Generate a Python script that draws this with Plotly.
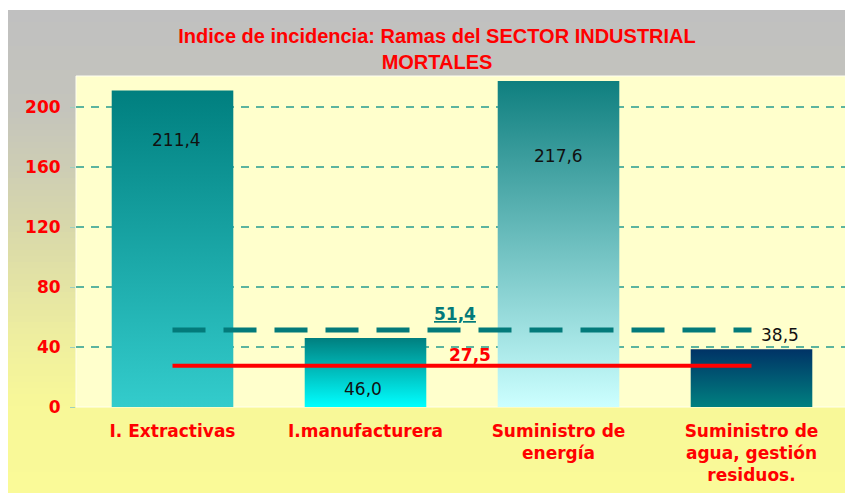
import plotly.graph_objects as go

# ---- data ----
categorias = ["I. Extractivas", "I.manufacturera", "Suministro de<br>energía",
              "Suministro de<br>agua, gestión<br>residuos."]
valores = [211.4, 46.0, 217.6, 38.5]
etiquetas = ["211,4", "46,0", "217,6", "38,5"]
media_sector = 51.4
media_sector_txt = "51,4"
media_total = 27.5
media_total_txt = "27,5"
y_ticks = [0, 40, 80, 120, 160, 200]

# ---- styles ----
bar_top = ["#007f7f", "#007f7f", "#0f7f7f", "#003366"]
bar_bottom = ["#33cccc", "#00ffff", "#ccffff", "#008080"]
label_shift = [(4, -50), (-3, -51), (0, -75), (28, 14)]
bar_w = 0.63

# page body has an 8px margin, so the figure is drawn at (8, 8)
W, H = 845, 485
ML, MR, MT, MB = 68, 5, 68, 86
pw, ph = W - ML - MR, H - MT - MB

fig = go.Figure()

for i, v in enumerate(valores):
    x0, x1 = i - bar_w / 2, i + bar_w / 2
    fig.add_trace(go.Scatter(
        x=[x0, x1, x1, x0, x0], y=[0, 0, v, v, 0],
        mode="lines", line=dict(width=0), fill="toself",
        fillgradient=dict(type="vertical",
                          colorscale=[[0, bar_bottom[i]], [1, bar_top[i]]]),
        hoverinfo="skip", showlegend=False))

n = len(valores)
fig.add_trace(go.Scatter(x=[0, n - 1], y=[media_sector, media_sector], mode="lines",
                         line=dict(color="#037a7a", width=5, dash="33px,18px"),
                         hoverinfo="skip", showlegend=False))
fig.add_trace(go.Scatter(x=[0, n - 1], y=[media_total, media_total], mode="lines",
                         line=dict(color="#ff0000", width=4),
                         hoverinfo="skip", showlegend=False))

annotations = []
for i, (v, t) in enumerate(zip(valores, etiquetas)):
    dx, dy = label_shift[i]
    annotations.append(dict(x=i, y=v, text=t, showarrow=False, xshift=dx, yshift=dy,
                            font=dict(family="DejaVu Sans", size=17, color="#111111")))
annotations.append(dict(x=(n - 1) / 2, y=media_sector, text="<u>" + media_sector_txt + "</u>",
                        showarrow=False, xshift=-7, yshift=16,
                        font=dict(family="DejaVu Sans", size=17, color="#037a7a", weight="bold")))
annotations.append(dict(x=(n - 1) / 2, y=media_total, text=media_total_txt,
                        showarrow=False, xshift=8, yshift=11,
                        font=dict(family="DejaVu Sans", size=17, color="#ff0000", weight="bold")))

# background gradient strips (gray top -> yellow bottom), figure pixel coords
stops = [(2, (192, 192, 192)), (99, (196, 196, 188)), (159, (205, 205, 180)),
         (219, (216, 216, 170)), (279, (228, 228, 164)), (339, (240, 240, 158)),
         (399, (248, 248, 152)), (485, (250, 250, 152))]


def col_at(py):
    for (a, ca), (b, cb) in zip(stops[:-1], stops[1:]):
        if a <= py <= b:
            t = (py - a) / (b - a)
            return "rgb(%d,%d,%d)" % tuple(round(ca[k] + (cb[k] - ca[k]) * t) for k in range(3))
    return "rgb(250,250,152)"


shapes = []
step = 6
py = 2
while py < H:
    p1 = min(py + step, H)
    shapes.append(dict(type="rect", xref="paper", yref="paper", layer="below",
                       x0=(0 - ML) / pw, x1=(W - ML) / pw + 0.01,
                       y0=(MT + ph - p1 - 0.5) / ph, y1=(MT + ph - py) / ph,
                       fillcolor=col_at((py + p1) / 2), line=dict(width=0)))
    py = p1
shapes.append(dict(type="rect", xref="paper", yref="paper", layer="below",
                   x0=0, x1=1, y0=0, y1=1, fillcolor="#ffffcc",
                   line=dict(width=1, color="#fffff0")))

fig.update_layout(
    width=W, height=H,
    margin=dict(l=ML, r=MR, t=MT, b=MB),
    paper_bgcolor="white", plot_bgcolor="rgba(0,0,0,0)",
    title=dict(text="Indice de incidencia: Ramas del SECTOR INDUSTRIAL<br>MORTALES",
               xref="container", yref="container", x=429 / W, xanchor="center",
               y=1 - 35 / H, yanchor="middle",
               font=dict(family="Liberation Sans", size=20, color="#ff0000", weight="bold")),
    xaxis=dict(range=[-0.5, n - 0.5], tickvals=list(range(n)), ticktext=categorias,
               showgrid=False, zeroline=False, showline=False, ticks="",
               ticklabelstandoff=12,
               tickfont=dict(family="DejaVu Sans", size=17, color="#ff0000", weight="bold")),
    yaxis=dict(range=[0, 221], tickvals=y_ticks, showgrid=True, gridcolor="#5cb49e",
               griddash="8px,7px", gridwidth=1.5, zeroline=False, showline=False,
               ticks="outside", ticklen=5, tickcolor="#9fcfbf", ticklabelstandoff=6,
               tickfont=dict(family="DejaVu Sans", size=17, color="#ff0000", weight="bold")),
    shapes=shapes, annotations=annotations,
    showlegend=False,
)

fig.write_html("out.html")
